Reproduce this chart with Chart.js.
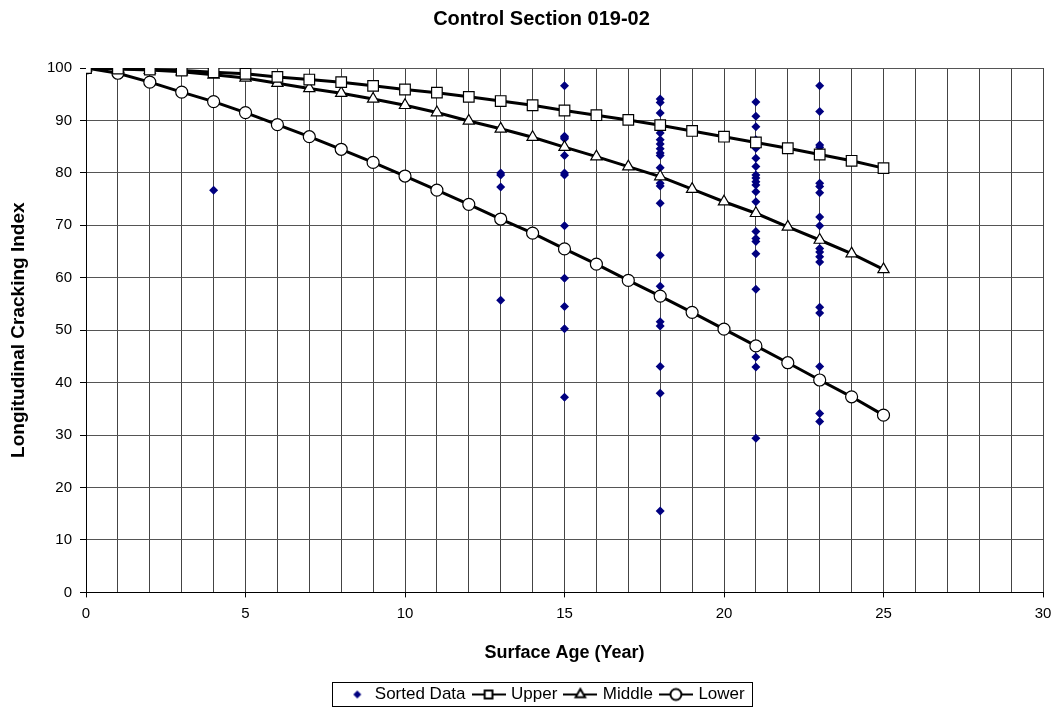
<!DOCTYPE html>
<html>
<head>
<meta charset="utf-8">
<title>Control Section 019-02</title>
<script src="https://cdn.jsdelivr.net/npm/chart.js@4.4.1/dist/chart.umd.min.js"></script>
<style>
    html, body { margin: 0; padding: 0; background: #fff; overflow: hidden; }
    #wrap { width: 1076px; height: 710px; }
</style>
</head>
<body>
<div id="wrap"><canvas id="curvaLCI"></canvas></div>
<script>
// Edades de superficie (años) para las curvas
const edades = [0, 1, 2, 3, 4, 5, 6, 7, 8, 9, 10, 11, 12, 13, 14, 15, 16, 17, 18, 19, 20, 21, 22, 23, 24, 25];
const curvaUpper = [100, 99.9, 99.7, 99.5, 99.2, 98.9, 98.3, 97.8, 97.3, 96.6, 95.9, 95.3, 94.5, 93.7, 92.9, 91.9, 91.0, 90.1, 89.1, 88.0, 86.9, 85.8, 84.7, 83.5, 82.3, 80.9];
const curvaMiddle = [100, 99.8, 99.6, 99.3, 98.7, 98.1, 97.1, 96.1, 95.2, 94.1, 92.9, 91.5, 89.9, 88.4, 86.8, 84.9, 83.1, 81.2, 79.3, 76.9, 74.5, 72.3, 69.7, 67.2, 64.6, 61.6];
const curvaLower = [100, 99.0, 97.3, 95.4, 93.6, 91.5, 89.2, 86.9, 84.5, 82.0, 79.4, 76.7, 74.0, 71.2, 68.5, 65.5, 62.6, 59.5, 56.5, 53.4, 50.2, 47.0, 43.8, 40.5, 37.3, 33.8];

// Datos medidos, agrupados por edad
const edadesMedidas = [0, 4, 13, 15, 18, 21, 23];
const indicesMedidos = [
    [100],
    [76.7],
    [80.0, 79.6, 77.3, 55.7],
    [96.6, 87.0, 86.5, 86.8, 83.3, 80.0, 79.6, 69.9, 59.9, 54.5, 50.3, 37.2],
    [94.1, 93.4, 91.4, 88.8, 87.6, 86.3, 85.5, 84.6, 83.8, 83.3, 81.0, 78.0, 77.5, 74.2, 64.3, 58.4, 51.6, 50.8, 43.1, 38.0, 15.5],
    [93.5, 90.8, 88.8, 86.3, 84.7, 82.8, 81.2, 79.6, 79.0, 78.3, 77.7, 76.4, 74.5, 68.8, 67.5, 66.9, 64.6, 57.8, 44.9, 43.0, 29.4],
    [96.6, 91.7, 85.3, 84.9, 78.0, 77.4, 76.2, 71.6, 69.9, 67.2, 65.6, 64.9, 64.0, 63.0, 54.4, 53.3, 43.1, 34.1, 32.6]
];

const ticksX = [0, 5, 10, 15, 20, 25, 30];

const fuente = "'Liberation Sans', Arial, sans-serif";
const azul = '#000080';

function puntos(xs, ys) {
    return xs.map((x, i) => ({ x: x, y: ys[i] }));
}

const medidos = [];
edadesMedidas.forEach((edad, i) => {
    indicesMedidos[i].forEach(v => medidos.push({ x: edad, y: v }));
});

// Iconos de la leyenda: línea con marcador al centro (o solo el rombo)
function iconoLeyenda(estilo, relleno, borde, conLinea) {
    const c = document.createElement('canvas');
    c.width = 34;
    c.height = 16;
    const g = c.getContext('2d');
    if (conLinea) {
        g.strokeStyle = '#000';
        g.lineWidth = 2;
        g.beginPath();
        g.moveTo(0, 8);
        g.lineTo(34, 8);
        g.stroke();
    }
    g.fillStyle = relleno;
    g.strokeStyle = borde;
    const cx = conLinea ? 17 : 22;
    Chart.helpers.drawPoint(g, { pointStyle: estilo, radius: conLinea ? 5.5 : 4, borderWidth: conLinea ? 1 : 0 }, cx, 8);
    return c;
}

const serieCurva = (label, data, estilo, radio) => ({
    type: 'line',
    label: label,
    data: puntos(edades, data),
    borderColor: '#000',
    borderWidth: 3,
    pointStyle: estilo,
    pointRadius: radio,
    pointBackgroundColor: '#fff',
    pointBorderColor: '#000',
    pointBorderWidth: 1.2,
    tension: 0,
    order: 1
});

// Recuadro alrededor de la leyenda
const marcoLeyenda = {
    id: 'marcoLeyenda',
    afterDraw(chart) {
        const cajas = chart.legend && chart.legend.legendHitBoxes;
        if (!cajas || !cajas.length) return;
        const izq = Math.min(...cajas.map(b => b.left)) - 6;
        const der = Math.max(...cajas.map(b => b.left + b.width)) + 8;
        const arr = Math.min(...cajas.map(b => b.top)) - 4;
        const aba = Math.max(...cajas.map(b => b.top + b.height)) + 3;
        const ctx = chart.ctx;
        ctx.save();
        ctx.strokeStyle = '#000';
        ctx.lineWidth = 1;
        ctx.strokeRect(Math.round(izq) + 0.5, Math.round(arr) + 0.5, Math.round(der - izq), Math.round(aba - arr));
        ctx.restore();
    }
};

const ctx = document.getElementById('curvaLCI').getContext('2d');
const grafico = new Chart(ctx, {
    type: 'scatter',
    data: {
        datasets: [
            {
                label: 'Sorted Data',
                data: medidos,
                pointStyle: 'rectRot',
                pointRadius: 4.5,
                pointBackgroundColor: azul,
                pointBorderColor: azul,
                pointBorderWidth: 0,
                showLine: false,
                order: 2
            },
            serieCurva('Upper', curvaUpper, 'rect', 7.5),
            serieCurva('Middle', curvaMiddle, 'triangle', 6.5),
            serieCurva('Lower', curvaLower, 'circle', 6)
        ]
    },
    options: {
        responsive: true,
        maintainAspectRatio: false,
        animation: false,
        layout: {
            // la leyenda deja espacio vacío debajo; se compensa aquí
            padding: { left: 7, right: 0, top: 7, bottom: -3 }
        },
        plugins: {
            title: {
                display: true,
                text: 'Control Section 019-02',
                color: '#000',
                font: { family: fuente, size: 20, weight: 'bold' },
                padding: { top: 0, bottom: 37 }
            },
            legend: {
                position: 'bottom',
                labels: {
                    color: '#000',
                    font: { family: fuente, size: 17 },
                    usePointStyle: true,
                    pointStyleWidth: 28,
                    padding: 9,
                    generateLabels: (chart) => {
                        const iconos = [
                            iconoLeyenda('rectRot', azul, azul, false),
                            iconoLeyenda('rect', '#fff', '#000', true),
                            iconoLeyenda('triangle', '#fff', '#000', true),
                            iconoLeyenda('circle', '#fff', '#000', true)
                        ];
                        return chart.data.datasets.map((ds, i) => ({
                            text: ds.label,
                            pointStyle: iconos[i],
                            datasetIndex: i,
                            fontColor: '#000',
                            fillStyle: 'transparent',
                            strokeStyle: 'transparent',
                            lineWidth: 0,
                            hidden: false
                        }));
                    }
                }
            },
            tooltip: { enabled: false }
        },
        scales: {
            x: {
                type: 'linear',
                min: 0,
                max: 30,
                afterBuildTicks: (escala) => {
                    const t = [];
                    for (let v = 0; v <= 30; v++) t.push({ value: v });
                    escala.ticks = t;
                },
                ticks: {
                    autoSkip: false,
                    maxRotation: 0,
                    color: '#000',
                    font: { family: fuente, size: 15 },
                    padding: 7,
                    callback: (v) => ticksX.includes(v) ? String(v) : ''
                },
                grid: {
                    color: '#444',
                    lineWidth: 1,
                    tickLength: 5,
                    tickColor: (c) => ticksX.includes(c.tick && c.tick.value) ? '#000' : 'rgba(0,0,0,0)'
                },
                border: { color: '#000', width: 1 },
                title: {
                    display: true,
                    text: 'Surface Age (Year)',
                    color: '#000',
                    font: { family: fuente, size: 18, weight: 'bold' },
                    padding: { top: 13, bottom: 13 }
                }
            },
            y: {
                min: 0,
                max: 100,
                ticks: {
                    stepSize: 10,
                    color: '#000',
                    font: { family: fuente, size: 15 },
                    padding: 8
                },
                grid: {
                    color: '#555',
                    lineWidth: 1,
                    tickLength: 6,
                    tickColor: '#000'
                },
                border: { color: '#000', width: 1 },
                title: {
                    display: true,
                    text: 'Longitudinal Cracking Index',
                    color: '#000',
                    font: { family: fuente, size: 19, weight: 'bold' },
                    padding: { top: 0, bottom: 10 }
                },
                afterFit: (escala) => { escala.width = 79; }
            },
            // margen derecho del área de trazado (sin marcas)
            margen: {
                type: 'linear',
                position: 'right',
                display: true,
                ticks: { display: false },
                grid: { display: false, drawTicks: false },
                border: { display: false },
                afterFit: (escala) => { escala.width = 33; }
            }
        }
    },
    plugins: [marcoLeyenda]
});
</script>
</body>
</html>
